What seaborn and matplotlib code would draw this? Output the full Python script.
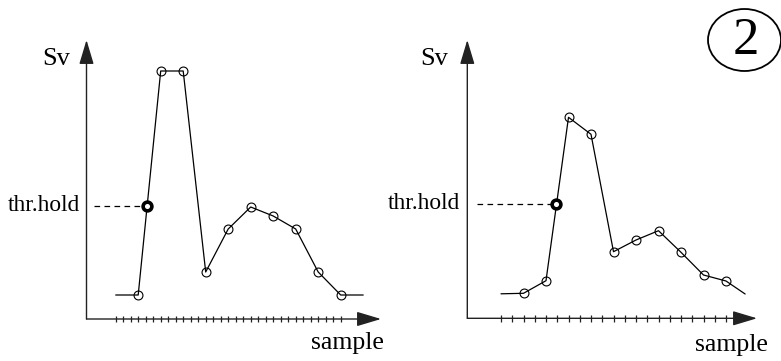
import numpy as np
import matplotlib
matplotlib.use("Agg")
import matplotlib.pyplot as plt
from matplotlib.patches import Ellipse
import seaborn as sns

# ---- data -------------------------------------------------------------
# panel 1: sample index vs Sv (line runs past the first/last sampled point)
left_samples = [0, 3, 6, 9, 12, 15, 18, 21, 24, 27, 30, 33]
left_sv = [2.4, 2.4, 24.8, 24.8, 4.7, 9.0, 11.2, 10.3, 9.0, 4.7, 2.4, 2.4]
left_thr = (4.2, 11.35)          # threshold crossing (sample, Sv)
left_ticks = list(range(0, 31))

# panel 2
right_samples = [0, 2, 4, 6, 8, 10, 12, 14, 16, 18, 20, 21.7]
right_sv = [2.45, 2.5, 3.76, 20.1, 18.4, 6.66, 7.83, 8.76, 6.6, 4.33, 3.73, 2.43]
right_thr = (4.93, 11.45)
right_ticks = list(range(0, 21))

sns.set_theme(style="white")
plt.rcParams["font.family"] = ["Liberation Serif", "DejaVu Serif"]

W, H = 781, 361
fig = plt.figure(figsize=(W / 100, H / 100), dpi=100)


def make_axes(box, x0_px, x_scale, y0_px, y_scale):
    """Axes over a pixel box (left, top, right, bottom) with linear mapping
    sample -> x0_px + x_scale*s and Sv -> y0_px - y_scale*v."""
    l, t, r, b = box
    ax = fig.add_axes([l / W, 1 - b / H, (r - l) / W, (b - t) / H])
    ax.set_xlim((l - x0_px) / x_scale, (r - x0_px) / x_scale)
    ax.set_ylim((y0_px - b) / y_scale, (y0_px - t) / y_scale)
    ax.axis("off")
    ax.patch.set_alpha(0)
    return ax


def draw_panel(ax, samples, sv, thr, ticks, x0_px, x_scale, y0_px, y_scale,
               yaxis_px, xtip_px, ytip_px, dash_px, thr_text_px, sample_px, sv_px):
    s = lambda p: (p - x0_px) / x_scale
    v = lambda p: (y0_px - p) / y_scale
    xa = s(yaxis_px)

    # axes with arrow heads
    arrow = dict(arrowstyle="-|>,head_length=1.0,head_width=0.3", lw=1.0,
                 color="#222222", shrinkA=0, shrinkB=0, mutation_scale=15)
    ax.annotate("", xy=(s(xtip_px), 0), xytext=(xa, 0), arrowprops=arrow,
                annotation_clip=False)
    ax.annotate("", xy=(xa, v(ytip_px)), xytext=(xa, 0), arrowprops=arrow,
                annotation_clip=False)

    # sample ticks crossing the axis
    th = 0.32
    ax.vlines(ticks, -th, th, colors="#222222", lw=0.9)

    # signal line with open circles at the sampled points
    sns.lineplot(x=samples, y=sv, ax=ax, sort=False, estimator=None,
                 color="black", lw=0.9, marker="o", markersize=6.4,
                 markerfacecolor="none", markeredgecolor="black",
                 markeredgewidth=0.8, markevery=list(range(1, len(samples) - 1)))

    # threshold level and crossing point
    ax.plot([s(dash_px), thr[0]], [thr[1], thr[1]], color="black", lw=0.9,
            ls=(0, (4.5, 3.5)))
    ax.plot([thr[0]], [thr[1]], marker="o", ms=6.3, mfc="white", mec="black",
            mew=2.6, ls="none", zorder=5)

    kw = dict(color="black", clip_on=False)
    ax.text(s(thr_text_px), thr[1], "thr.hold", ha="right", va="center",
            fontsize=16.8, **kw)
    ax.text(s(sample_px[0]), v(sample_px[1]), "sample", ha="right",
            va="baseline", fontsize=18.5, **kw)
    ax.text(s(sv_px[0]), v(sv_px[1]), "Sv", ha="center", va="baseline",
            fontsize=19, **kw)


# left panel
axL = make_axes((0, 0, 390, 361), 115.7, 7.5, 319.0, 10.0)
draw_panel(axL, left_samples, left_sv, left_thr, left_ticks,
           115.7, 7.5, 319.0, 10.0,
           yaxis_px=86.5, xtip_px=381, ytip_px=40, dash_px=94,
           thr_text_px=80.5, sample_px=(384, 349), sv_px=(56, 65))

# right panel
axR = make_axes((390, 0, 781, 361), 501.0, 11.25, 318.3, 10.0)
draw_panel(axR, right_samples, right_sv, right_thr, right_ticks,
           501.0, 11.25, 318.3, 10.0,
           yaxis_px=467.3, xtip_px=757, ytip_px=40, dash_px=476.5,
           thr_text_px=460.5, sample_px=(768, 351), sv_px=(434, 65))

# circled panel number
fig.add_artist(Ellipse((744.5 / W, 1 - 40 / H), 73 / W, 62 / H,
                       transform=fig.transFigure, fill=False,
                       edgecolor="black", lw=1.3))
fig.text(746 / W, 1 - 41 / H, "2", ha="center", va="center", fontsize=38,
         color="black")

fig.savefig("out.png", dpi=100)
